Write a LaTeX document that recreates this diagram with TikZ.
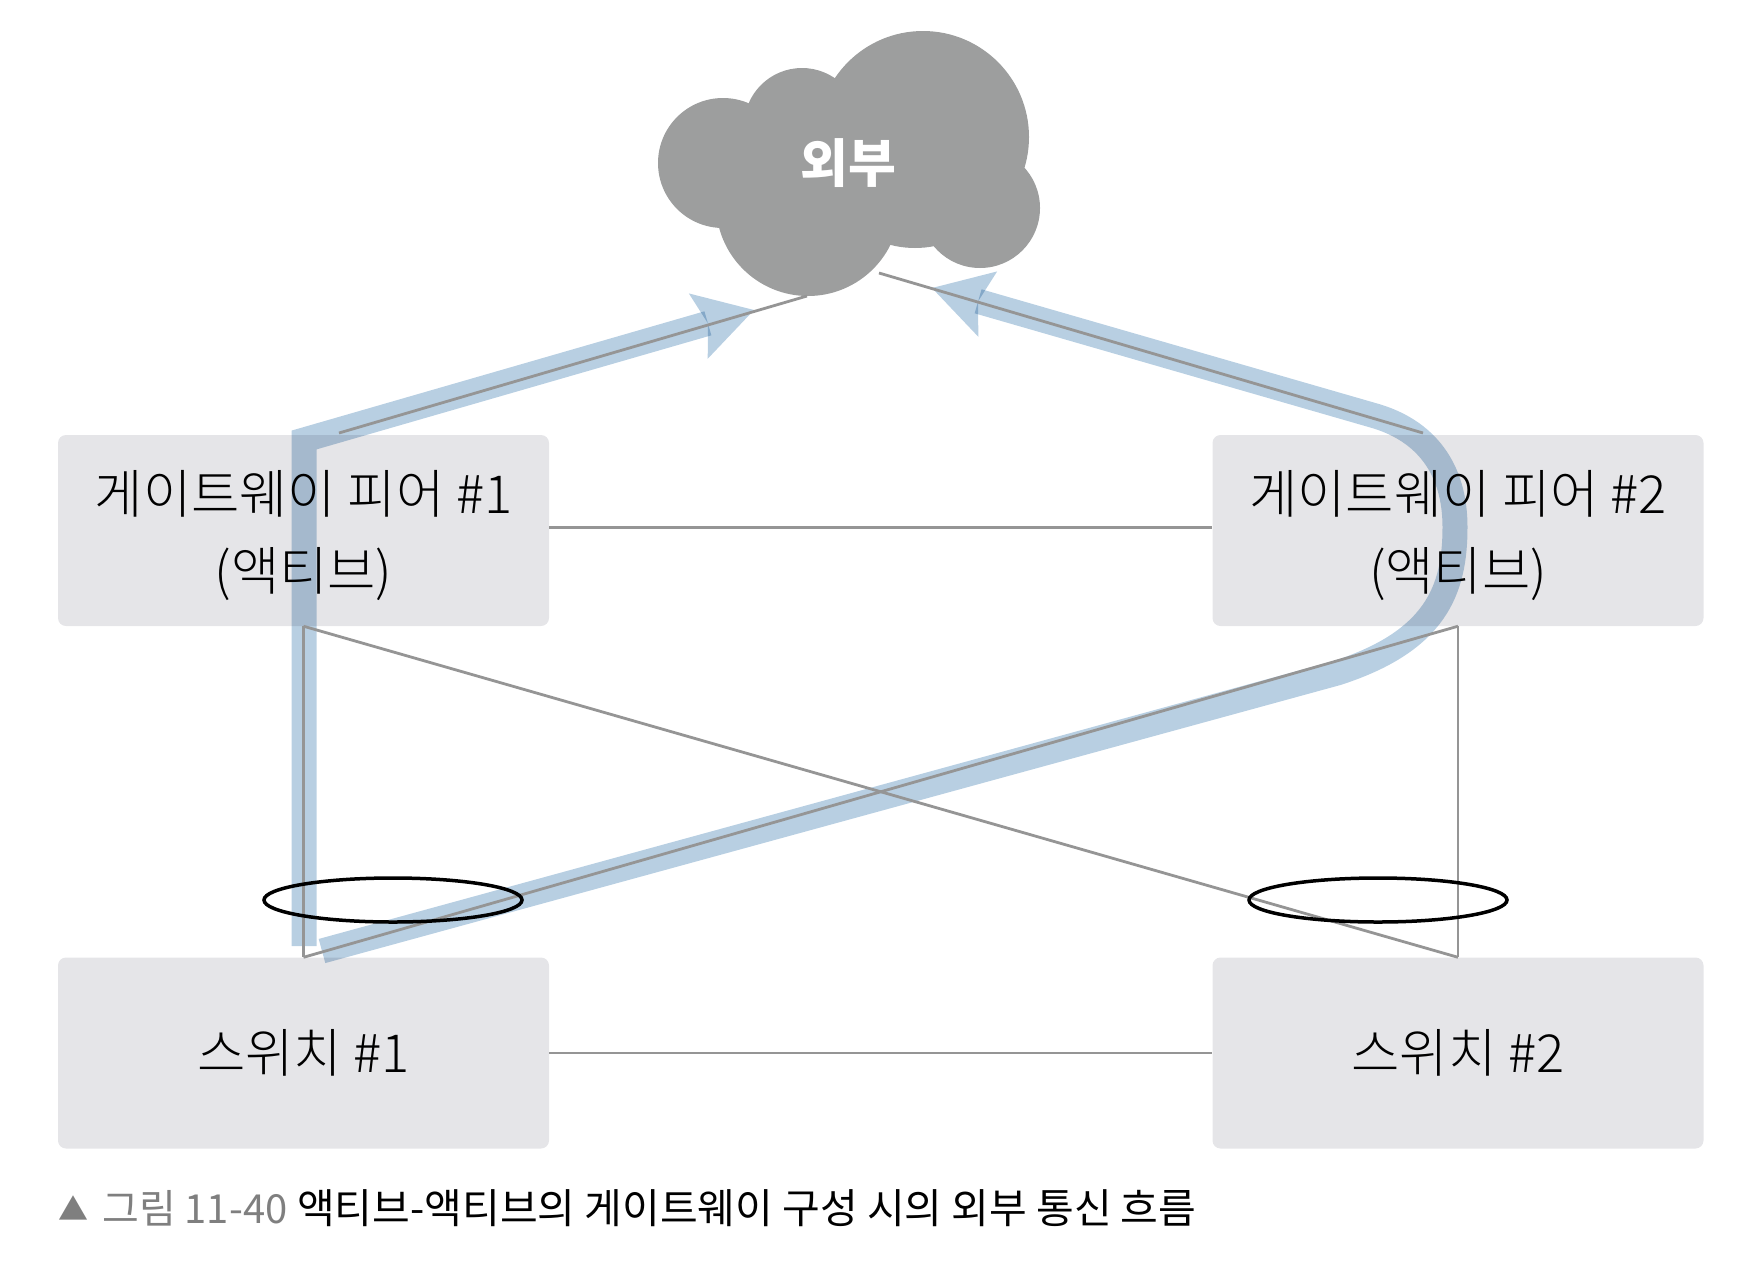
\documentclass[tikz,border=0pt]{standalone}
\usepackage{fontspec}
\setmainfont{Noto Sans CJK KR}
\newfontfamily\lightfont{Noto Sans CJK KR Light}
\usetikzlibrary{arrows.meta,shapes.geometric}
\definecolor{boxgray}{HTML}{E5E5E8}
\definecolor{cloudgray}{HTML}{9D9E9E}
\definecolor{linegray}{HTML}{959595}
\definecolor{flowblue}{HTML}{B8CFE2}
\definecolor{capgray}{HTML}{7F7F7F}
\tikzset{
    devbox/.style = {shape = rectangle, fill = boxgray, rounded corners = 8pt, inner sep = 0pt,
        minimum width = 491pt, minimum height = 191pt, align = center,
        font = \lightfont\fontsize{52.5}{77}\selectfont},
    link/.style = {draw = linegray, line width = 2.8pt},
    flow/.style = {draw = flowblue, line width = 25pt, blend mode = multiply,
        -{Stealth[length = 58pt, width = 68pt, inset = 10pt, line width = 0pt]}},
    bundle/.style = {shape = ellipse, draw = black, line width = 3.5pt, inner sep = 0pt,
        minimum width = 258pt, minimum height = 44pt},
    captionline/.style = {anchor = west, inner sep = 0pt}
}
\begin{document}
\begin{tikzpicture}[x = 1pt, y = -1pt]
    \useasboundingbox (0,0) rectangle (1748,1272);

    \foreach \cx/\cy/\rad in {723/163/65, 802/126/58, 923/137/106, 980/208/60, 808/204/92, 915/150/98}
        \fill [cloudgray] (\cx,\cy) circle (\rad pt);
    \node [text = white, font = \fontsize{52}{60}\selectfont\bfseries] (cloud) at (848,163) {외부};

    \node [devbox] (peerone) at (303.5,530.5) {\rule{0pt}{54pt}게이트웨이 피어 \#1\\(액티브)};
    \node [devbox] (peertwo) at (1458,530.5) {\rule{0pt}{54pt}게이트웨이 피어 \#2\\(액티브)};
    \node [devbox] (switchone) at (303.5,1053) {스위치 \#1};
    \node [devbox] (switchtwo) at (1458,1053) {스위치 \#2};

    \coordinate (flowonea) at (304,946);
    \coordinate (flowoneb) at (304,440);
    \coordinate (flowonec) at (754,310);
    \coordinate (flowtwoa) at (322,951);
    \coordinate (flowtwob) at (1337,673);
    \coordinate (flowtwoc) at (1455,527);
    \coordinate (flowtwod) at (1372,415);
    \coordinate (flowtwoe) at (932,288);

    \draw [flow] (flowonea) -- (flowoneb) -- (flowonec);
    \draw [flow] (flowtwoa) -- (flowtwob) .. controls (1436,641) and (1455,590) .. (flowtwoc)
        .. controls (1455,470) and (1427,430) .. (flowtwod) -- (flowtwoe);

    \coordinate (upone) at (339,433);
    \coordinate (uponeend) at (807,296);
    \coordinate (uptwo) at (1423,433);
    \coordinate (uptwoend) at (879,273);

    \draw [link] ([yshift = 3pt]peerone.east) to ([yshift = 3pt]peertwo.west);
    \draw [link] (switchone) to (switchtwo);
    \draw [link] (upone) to (uponeend);
    \draw [link] (uptwo) to (uptwoend);
    \draw [link] (peerone.south) to (switchone.north);
    \draw [link] (peertwo.south) to (switchtwo.north);
    \draw [link] (peerone.south) to (switchtwo.north);
    \draw [link] (peertwo.south) to (switchone.north);

    \node [bundle] (bundleone) at (393,900) {};
    \node [bundle] (bundletwo) at (1378,900) {};

    \node [captionline, text = capgray, font = \fontsize{30}{36}\selectfont] (capmark) at (58,1208) {▲};
    \node [captionline, text = capgray, font = \fontsize{40}{48}\selectfont] (captag) at (102,1208) {그림 11-40};
    \node [captionline, font = \fontsize{41}{48}\selectfont] (captext) at (297,1208) {액티브-액티브의 게이트웨이 구성 시의 외부 통신 흐름};
\end{tikzpicture}
\end{document}
